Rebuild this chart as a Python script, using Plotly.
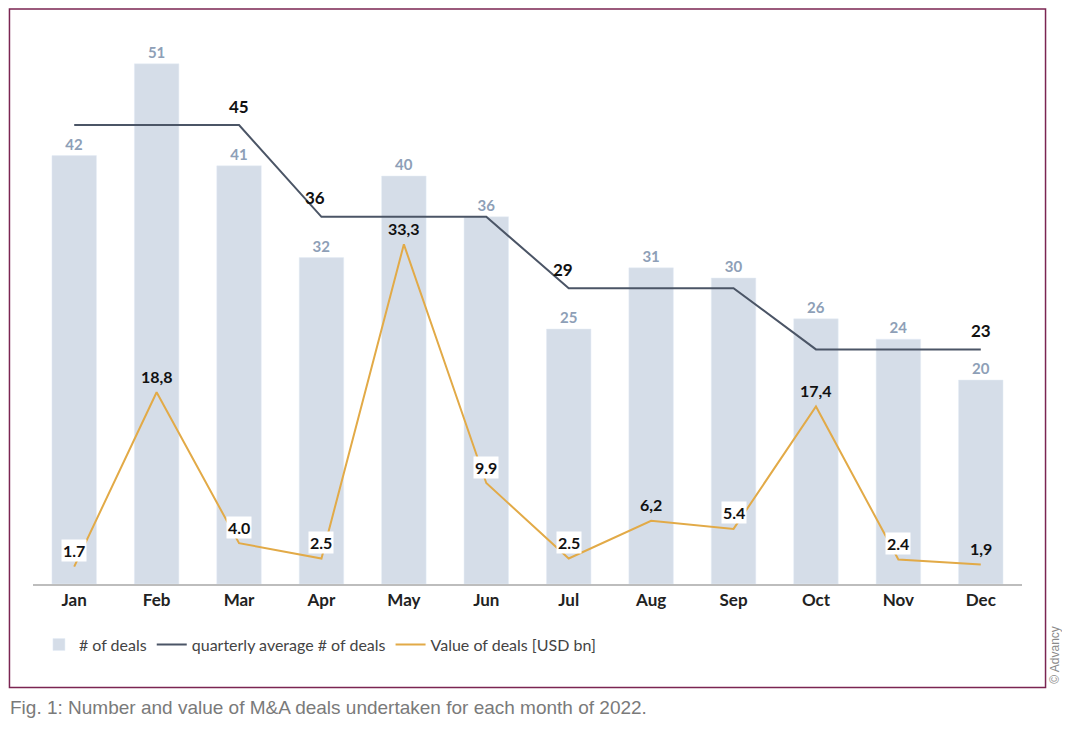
import plotly.graph_objects as go

months = ["Jan", "Feb", "Mar", "Apr", "May", "Jun", "Jul", "Aug", "Sep", "Oct", "Nov", "Dec"]
deals = [42, 51, 41, 32, 40, 36, 25, 31, 30, 26, 24, 20]
quarterly_avg = [45, 45, 45, 36, 36, 36, 29, 29, 29, 23, 23, 23]
quarter_label_months = ["Mar", "Apr", "Jul", "Dec"]
quarter_label_values = [45, 36, 29, 23]
value_bn = [1.7, 18.8, 4.0, 2.5, 33.3, 9.9, 2.5, 6.2, 5.4, 17.4, 2.4, 1.9]
value_labels = ["1.7", "18,8", "4.0", "2.5", "33,3", "9.9", "2.5", "6,2", "5.4", "17,4", "2.4", "1,9"]

FONT = "Lato"
BAR_C = "#d5dde8"
BAR_TXT = "#8e9fb7"
AVG_C = "#4b5566"
VAL_C = "#e2aa47"
BORDER = "#7b2552"

fig = go.Figure()
fig.add_trace(go.Bar(
    x=months, y=deals, name="# of deals", marker_color=BAR_C, width=0.54,
    text=[str(v) for v in deals], textposition="outside", cliponaxis=False,
    textfont=dict(family=FONT, size=15, color=BAR_TXT, weight="bold"),
))
fig.add_trace(go.Scatter(
    x=months, y=quarterly_avg, name="quarterly average # of deals", mode="lines",
    line=dict(color=AVG_C, width=2), cliponaxis=False,
))
fig.add_trace(go.Scatter(
    x=months, y=value_bn, name="Value of deals [USD bn]", mode="lines",
    line=dict(color=VAL_C, width=2), cliponaxis=False,
))

q_shift = {"Mar": 0, "Apr": -6, "Jul": -6, "Dec": 0}
for m, v in zip(quarter_label_months, quarter_label_values):
    fig.add_annotation(x=m, y=v, text=str(v), showarrow=False, yshift=19, xshift=q_shift[m],
                       font=dict(family=FONT, size=17, color="#111111", weight="bold"))

for m, v, t in zip(months, value_bn, value_labels):
    boxed = "." in t
    fig.add_annotation(x=m, y=v, text=t, showarrow=False, yshift=16,
                       bgcolor="white" if boxed else "rgba(0,0,0,0)", borderpad=1,
                       font=dict(family=FONT, size=16, color="#111111", weight="bold"))

# frame
fig.add_shape(type="rect", xref="paper", yref="paper", x0=-0.0238, x1=1.0238, y0=-0.1845, y1=1.0250,
              line=dict(color=BORDER, width=1.5), fillcolor="rgba(0,0,0,0)", layer="below")

fig.add_annotation(xref="paper", yref="paper", x=-0.0250, y=-0.220, xanchor="left", yanchor="middle",
                   text="Fig. 1: Number and value of M&A deals undertaken for each month of 2022.",
                   showarrow=False, font=dict(family="Liberation Sans", size=19, color="#7a7a7a"))
fig.add_annotation(xref="paper", yref="paper", x=1.0334, y=-0.126, xanchor="center", yanchor="middle",
                   text="© Advancy", textangle=-90, showarrow=False,
                   font=dict(family="Liberation Sans", size=12, color="#8a8a8a"))

fig.update_layout(
    width=1062, height=721,
    margin=dict(l=25, r=48, t=15, b=145, autoexpand=False),
    paper_bgcolor="white", plot_bgcolor="white",
    showlegend=True,
    legend=dict(orientation="h", x=0.006, y=-0.108, xanchor="left", yanchor="middle",
                font=dict(family=FONT, size=16, color="#444444"), itemwidth=30,
                traceorder="normal"),
    bargap=0.46,
)
fig.update_xaxes(showline=True, linecolor="#bdbdbd", linewidth=1.5, ticks="", showgrid=False,
                 tickfont=dict(family=FONT, size=17, color="#222222", weight="bold"),
                 range=[-0.5, 11.5], fixedrange=True)
fig.update_yaxes(visible=False, range=[0, 55], showgrid=False, zeroline=False)

fig.write_html("out.html")
